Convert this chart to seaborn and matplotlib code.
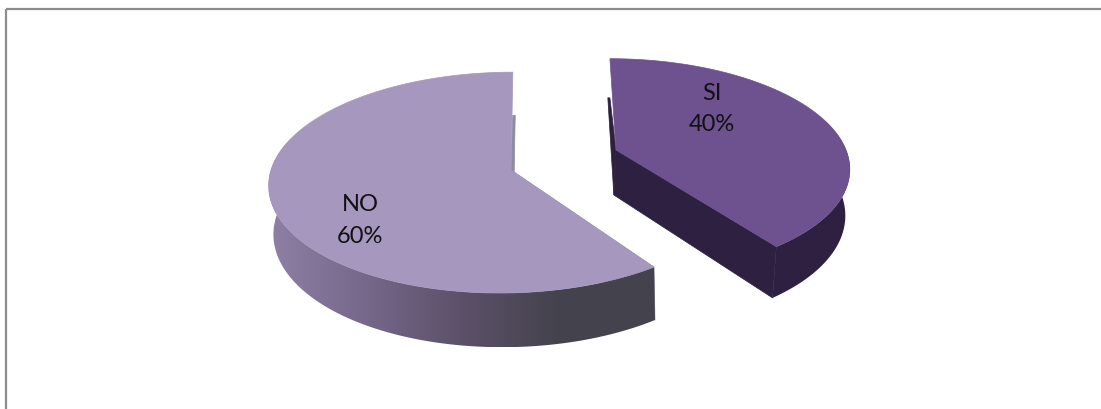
"""
3D looking pie chart, SI / NO, drawn on a pixel sized axes.
"""
import matplotlib

matplotlib.use("Agg")
import matplotlib.pyplot as plt
import numpy as np
import seaborn as sns
from matplotlib.colors import ListedColormap
from matplotlib.patches import Polygon

categories = ["SI", "NO"]
values = [40, 60]

top_colors = ["#6E528F", "#A597BD"]
wall_colors = [["#2E2040", "#2E2040"], ["#8E80A6", "#75688A", "#5C5069", "#44434D", "#44434D"]]
cut_colors = ["#2E2040", "#8F8A9E"]
label_positions = [(712, 109), (360, 220.5)]

# projection of each slice: centre, radii, perspective, shear, depth, apex shift, wall shift
geometry = [
    dict(cx=616, cy=150, rx=230, ry=105, k=0.15, s=-7, depth=45, apex_dx=0, wall_dx=-1.5),
    dict(cx=507, cy=170, rx=236, ry=109, k=0.114, s=6.5, depth=48, apex_dx=4, wall_dx=2),
]
VANISH_X = 550
WALL_SCALE = 0.99


def project(theta, g):
    u, v = np.sin(theta), np.cos(theta)
    w = 1 + g["k"] * v
    x = g["cx"] + (g["rx"] * u + g["s"] * v) / w
    y = g["cy"] - g["ry"] * v / w
    return x, y, g["depth"] / w


def lower(x, y, depth, g):
    return VANISH_X + (x - VANISH_X) * WALL_SCALE + g["wall_dx"], y + depth


sns.set_theme(style="white")
plt.rcParams["font.family"] = ["Lato", "DejaVu Sans"]

fig = plt.figure(figsize=(11.01, 4.09), dpi=100, facecolor="white")
ax = fig.add_axes([0, 0, 1, 1])
ax.axis("off")

# chart frame, only top and left survive the crop
ax.plot([5.5, 1101], [8.5, 8.5], color="#8C8C8C", lw=1.6, solid_capstyle="butt")
ax.plot([5.5, 5.5], [8.5, 409], color="#8C8C8C", lw=1.6, solid_capstyle="butt")

fractions = np.cumsum([0] + values) / sum(values)
angles = 2 * np.pi * fractions

for i, name in enumerate(categories):
    g = geometry[i]
    theta = np.linspace(angles[i], angles[i + 1], 240)
    x, y, depth = project(theta, g)
    bx, by = lower(x, y, depth, g)
    apex = (g["cx"] + g["apex_dx"], g["cy"])
    apex_low = lower(apex[0], apex[1], g["depth"], g)

    # cut faces: the one at 12 o'clock only peeks out below the back rim
    for j in (0, -1):
        if np.cos(theta[j]) > 0:
            face = [(x[j], by[j]), (bx[j], by[j]), apex_low, apex]
        else:
            face = [apex, (x[j], y[j]), (bx[j], by[j]), apex_low]
        ax.add_patch(Polygon(face, closed=True, fc=cut_colors[i], ec=cut_colors[i], lw=0.5, zorder=1))

    # outer wall, front part only, shaded along x with a clipped gradient
    front = np.cos(theta) < 0.3
    outline = np.vstack([np.column_stack([x[front], y[front]]),
                         np.column_stack([bx[front], by[front]])[::-1]])
    wall = Polygon(outline, closed=True, fc="none", ec="none", zorder=2)
    ax.add_patch(wall)
    cmap = ListedColormap(sns.blend_palette(wall_colors[i], 256))
    extent = (outline[:, 0].min(), outline[:, 0].max(), outline[:, 1].max(), outline[:, 1].min())
    image = ax.imshow(np.linspace(0, 1, 256)[None, :], cmap=cmap, aspect="auto", extent=extent,
                      interpolation="bilinear", zorder=2)
    image.set_clip_path(wall)

    top = np.vstack([[apex], np.column_stack([x, y])])
    ax.add_patch(Polygon(top, closed=True, fc=top_colors[i], ec=top_colors[i], lw=0.5, zorder=3))

    lx, ly = label_positions[i]
    ax.text(lx, ly, f"{name}\n{values[i]}%", ha="center", va="center", fontsize=17,
            color="#111111", linespacing=1.6, zorder=4)

ax.set_xlim(0, 1101)
ax.set_ylim(409, 0)

fig.savefig("out.png", dpi=100, facecolor="white")
plt.close(fig)
